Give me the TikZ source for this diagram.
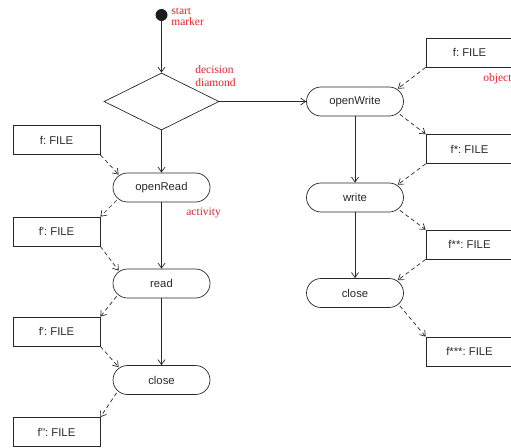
\documentclass[tikz,border=0pt]{standalone}
\usepackage{fontspec}
\setmainfont{Liberation Serif}
\newfontfamily\hvfont{Liberation Sans}
\newfontfamily\annotfont{Liberation Serif}
\usetikzlibrary{shapes.geometric,arrows.meta}
\definecolor{annot}{RGB}{232,32,42}
\definecolor{ink}{RGB}{40,40,40}
\frenchspacing
\begin{document}
\begin{tikzpicture}[x=1pt,y=-1pt,
  act/.style={draw=ink, rectangle, rounded corners=14.5pt, minimum width=97pt, minimum height=29pt, inner sep=0pt, text=ink, font=\hvfont\fontsize{11.3}{13}\selectfont},
  obj/.style={draw=ink, rectangle, minimum width=87pt, minimum height=29pt, inner sep=0pt, text=ink, font=\hvfont\fontsize{11.3}{13}\selectfont},
  flow/.style={draw=ink, -{Straight Barb[length=5pt,width=7pt]}, line width=0.7pt},
  objflow/.style={flow, dash pattern=on 4pt off 3pt},
  note/.style={text=annot, align=left, inner sep=0pt, anchor=west},
  line width=0.7pt]
\useasboundingbox (0,0) rectangle (511,447);
\clip (0,0) rectangle (511,447);
% start and decision
\node[circle, fill=ink!70!black, minimum size=12pt, inner sep=0pt] (start) at (161.5,15) {};
\node[draw=ink, diamond, minimum width=115pt, minimum height=57pt, inner sep=0pt] (dec) at (161.5,101.5) {};
% left column
\node[act] (openRead) at (161.5,187.5) {openRead};
\node[act] (read) at (161.5,283.5) {read};
\node[act] (closeL) at (161.5,380) {close};
\node[obj] (oL1) at (56.5,140) {f: FILE};
\node[obj] (oL2) at (56.5,231.5) {f': FILE};
\node[obj] (oL3) at (56.5,331.5) {f': FILE};
\node[obj] (oL4) at (56.5,432) {f'': FILE};
% right column
\node[act] (openWrite) at (355,101.5) {openWrite};
\node[act] (write) at (355,197.5) {write};
\node[act] (closeR) at (355,293) {close};
\node[obj] (oR1) at (469.5,52.5) {f: FILE};
\node[obj] (oR2) at (469.5,149) {f*: FILE};
\node[obj] (oR3) at (469.5,244.5) {f**: FILE};
\node[obj] (oR4) at (469.5,351.5) {f***: FILE};
% annotations
\node[note, font=\annotfont\fontsize{11.5}{10.5}\selectfont] (nstart) at (171,17) {start\\marker};
\node[note, font=\annotfont\fontsize{11.5}{13}\selectfont] (ndec) at (195,76.5) {decision\\diamond};
\node[note, font=\annotfont\fontsize{11.5}{13}\selectfont] (nact) at (186,213) {activity};
\node[note, font=\annotfont\fontsize{11.5}{13}\selectfont] (nobj) at (483,79) {object};
% control flow
\draw[flow] (start.south) -- (dec.north);
\draw[flow] (dec.east) -- (openWrite.west);
\draw[flow] (dec.south) -- (openRead.north);
\draw[flow] (openRead.south) -- (read.north);
\draw[flow] (read.south) -- (closeL.north);
\draw[flow] (openWrite.south) -- (write.north);
\draw[flow] (write.south) -- (closeR.north);
% object flow left
\draw[objflow] (oL1.south east) -- ([shift={(6,2)}]openRead.north west);
\draw[objflow] ([shift={(4,-2)}]openRead.south west) -- (oL2.north east);
\draw[objflow] (oL2.south east) -- ([shift={(6,2)}]read.north west);
\draw[objflow] ([shift={(4,-2)}]read.south west) -- (oL3.north east);
\draw[objflow] (oL3.south east) -- ([shift={(6,2)}]closeL.north west);
\draw[objflow] ([shift={(4,-2)}]closeL.south west) -- (oL4.north east);
% object flow right
\draw[objflow] (oR1.south west) -- ([shift={(-6,2)}]openWrite.north east);
\draw[objflow] ([shift={(-4,-2)}]openWrite.south east) -- (oR2.north west);
\draw[objflow] (oR2.south west) -- ([shift={(-6,2)}]write.north east);
\draw[objflow] ([shift={(-4,-2)}]write.south east) -- (oR3.north west);
\draw[objflow] (oR3.south west) -- ([shift={(-6,2)}]closeR.north east);
\draw[objflow] ([shift={(-4,-2)}]closeR.south east) -- (oR4.north west);
\end{tikzpicture}
\end{document}
